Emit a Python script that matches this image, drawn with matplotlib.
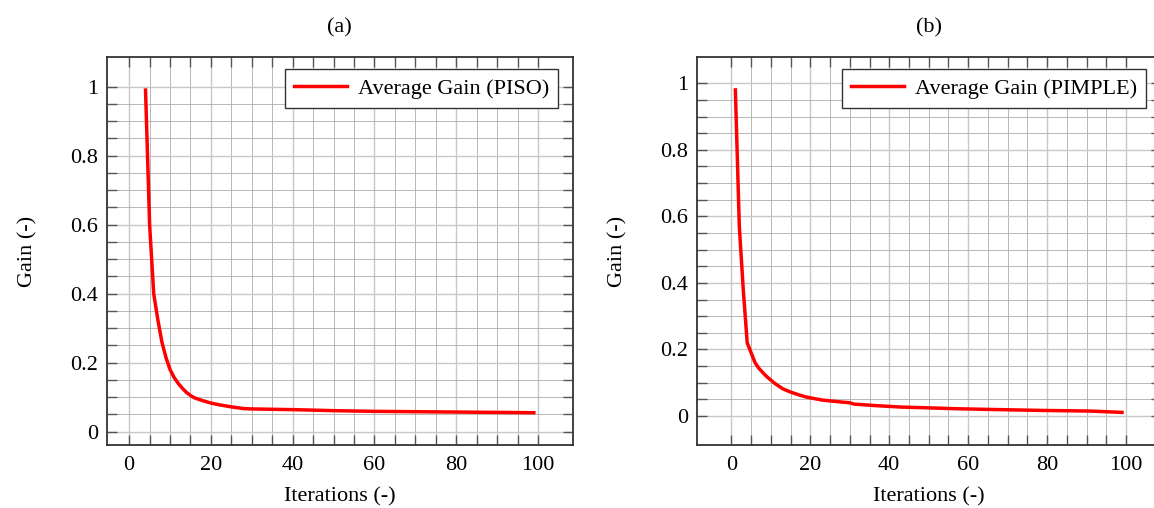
import numpy as np
import matplotlib
matplotlib.use("Agg")
import matplotlib.pyplot as plt
from matplotlib.ticker import FixedLocator, FuncFormatter

plt.rcParams['font.family'] = ['Liberation Serif', 'DejaVu Serif']

# Average gain per iteration, PISO solver
piso_iter = [4, 5, 6, 7, 8, 9, 10, 11, 12, 13, 14, 15, 16, 18, 20, 22, 25, 28, 30, 35, 40, 50, 60, 70, 80, 90, 99]
piso_gain = [0.99, 0.60, 0.40, 0.325, 0.26, 0.215, 0.18, 0.157, 0.14, 0.126, 0.114, 0.105, 0.098, 0.090, 0.083, 0.078, 0.072, 0.067, 0.066, 0.065, 0.064, 0.061, 0.059, 0.058, 0.057, 0.056, 0.055]

# Average gain per iteration, PIMPLE solver
pimple_iter = [1, 2, 3, 4, 5, 6, 7, 8, 9, 10, 11, 13, 15, 17, 19, 23, 28, 30, 31, 37, 43, 49, 57, 65, 78, 91, 99]
pimple_gain = [0.98, 0.57, 0.38, 0.22, 0.19, 0.16, 0.143, 0.13, 0.118, 0.108, 0.098, 0.082, 0.072, 0.064, 0.057, 0.048, 0.042, 0.040, 0.036, 0.031, 0.027, 0.025, 0.022, 0.020, 0.017, 0.015, 0.011]

x_major = [0, 20, 40, 60, 80, 100]
x_minor = [v for v in range(0, 101, 5) if v % 20]
y_major = [0, 0.2, 0.4, 0.6, 0.8, 1.0]
y_minor = [round(v, 2) for v in np.arange(0, 1.0001, 0.05) if round(v * 100) % 20]

W, H = 1154, 508
fig = plt.figure(figsize=(W / 100, H / 100), dpi=100)

FS = 16


def fmt(v, pos):
    return '%g' % round(v, 3)


def setup(ax, xlim, ylim, title):
    ax.set_xlim(*xlim)
    ax.set_ylim(*ylim)
    ax.xaxis.set_major_locator(FixedLocator(x_major))
    ax.xaxis.set_minor_locator(FixedLocator(x_minor))
    ax.yaxis.set_major_locator(FixedLocator(y_major))
    ax.yaxis.set_minor_locator(FixedLocator(y_minor))
    ax.xaxis.set_major_formatter(FuncFormatter(fmt))
    ax.yaxis.set_major_formatter(FuncFormatter(fmt))
    ax.grid(True, which='major', color='#c8c8c8', lw=1.0)
    ax.grid(True, which='minor', color='#acacac', lw=0.6)
    ax.set_axisbelow(True)
    ax.tick_params(which='both', direction='in', top=True, right=True,
                   length=7, width=1.0, color='#555555', labelsize=FS, pad=6)
    ax.tick_params(axis='x', pad=8)
    for s in ax.spines.values():
        s.set_color('#333333')
        s.set_linewidth(1.3)
    ax.set_xlabel('Iterations (-)', fontsize=FS, labelpad=9)
    ax.set_ylabel('Gain (-)', fontsize=FS, labelpad=24)
    ax.set_title(title, fontsize=FS, pad=18)


axh = (445 - 57.3) / H
axb = (H - 445) / H

ax1 = fig.add_axes([106.7 / W, axb, 466 / W, axh])
ax1.plot(piso_iter, piso_gain, color='#ff0000', lw=2.5, label='Average Gain (PISO)')
setup(ax1, (-5.5, 108.5), (-0.0385, 1.085), '(a)')

ax2 = fig.add_axes([696.7 / W, axb, 464 / W, axh])
ax2.plot(pimple_iter, pimple_gain, color='#ff0000', lw=2.5, label='Average Gain (PIMPLE)')
setup(ax2, (-8.8, 108.8), (-0.087, 1.078), '(b)')

for ax in (ax1, ax2):
    leg = ax.legend(loc='upper right', bbox_to_anchor=(0.969, 0.969), borderaxespad=0,
                    fontsize=FS, fancybox=False, framealpha=1, edgecolor='#333333',
                    handlelength=2.4, handletextpad=0.5, borderpad=0.4)
    leg.get_frame().set_linewidth(1.0)

fig.savefig('out.png', dpi=100)
